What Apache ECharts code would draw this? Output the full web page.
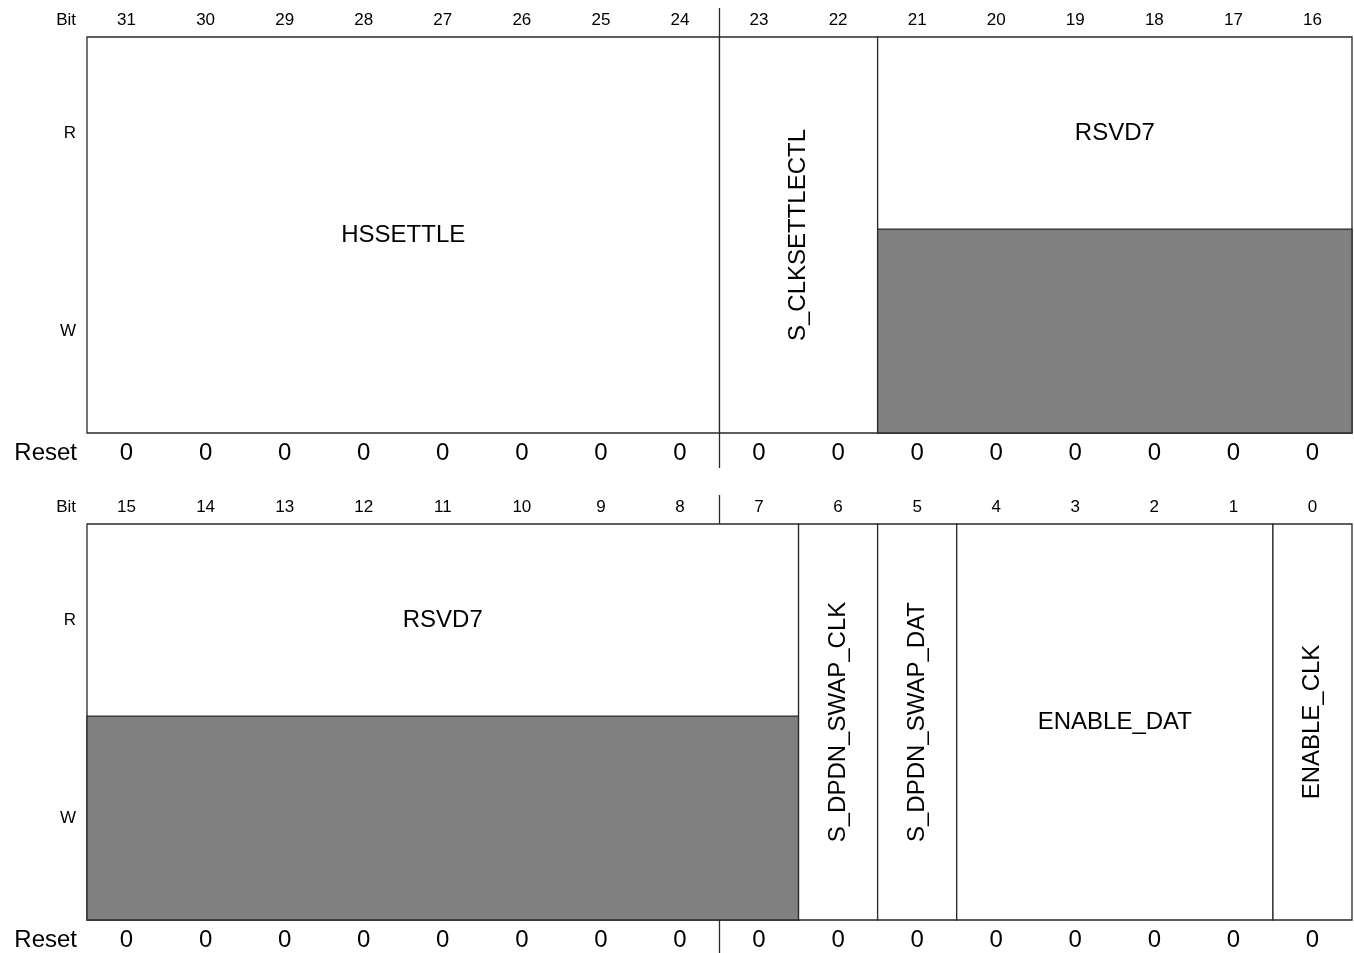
<!DOCTYPE html>
<html><head><meta charset="utf-8">
<script src="https://cdn.jsdelivr.net/npm/echarts@6/dist/echarts.min.js"></script>
<style>html,body{margin:0;padding:0;background:#fff}#c{width:1354px;height:953px}</style>
</head><body><div id="c"></div>
<script>
// ---- data ----
const bitsTop = [31,30,29,28,27,26,25,24,23,22,21,20,19,18,17,16];
const bitsBottom = [15,14,13,12,11,10,9,8,7,6,5,4,3,2,1,0];
const resetTop = [0,0,0,0,0,0,0,0,0,0,0,0,0,0,0,0];
const resetBottom = [0,0,0,0,0,0,0,0,0,0,0,0,0,0,0,0];
const fieldNames = ['HSSETTLE','S_CLKSETTLECTL','RSVD7','RSVD7','S_DPDN_SWAP_CLK','S_DPDN_SWAP_DAT','ENABLE_DAT','ENABLE_CLK'];
const fieldMsb = [31,23,21,15,6,5,4,0];
const fieldLsb = [24,22,16,7,6,5,1,0];
const fieldWritable = [true,true,false,false,true,true,true,true];
const rowLabels = ['R','W'];
const bitLabel = 'Bit';
const resetLabel = 'Reset';
const dividerAfterBit = [24, 8];

// ---- layout / style ----
const FONT = '"Liberation Sans", Arial, Helvetica, sans-serif';
const SPLIT = 0.515;          // R / W boundary (fraction of box height from bottom)
const LINE = '#2a2a2a';
const GREY = '#808080';

const halves = [
  {bits: bitsTop, reset: resetTop, top: 37},
  {bits: bitsBottom, reset: resetBottom, top: 524}
];

function idxOf(h, bit){ return halves[h].bits.indexOf(bit); }

function fieldRender(params, api){
  const a = api.value(0), b = api.value(1), fi = api.value(2);
  const bw = api.size([1, 0])[0];
  const x0 = api.coord([a, 1])[0] - bw/2;
  const x1 = api.coord([b, 1])[0] + bw/2;
  const yT = api.coord([a, 1])[1];
  const yB = api.coord([a, 0])[1];
  const yS = api.coord([a, SPLIT])[1];
  const ch = [{type:'rect', shape:{x:x0, y:yT, width:x1-x0, height:yB-yT},
    style:{fill:'#fff', stroke:LINE, lineWidth:1.3}}];
  let ty = (yT + yB)/2;
  if (!fieldWritable[fi]) {
    ch.push({type:'rect', shape:{x:x0, y:yS, width:x1-x0, height:yB-yS},
      style:{fill:GREY, stroke:LINE, lineWidth:1.3}});
    ty = (yT + yS)/2;
  }
  const width = fieldMsb[fi] - fieldLsb[fi] + 1;
  ch.push({type:'text', x:(x0+x1)/2, y:ty, rotation: width <= 2 ? Math.PI/2 : 0,
    style:{text: fieldNames[fi], fill:'#000', font:'24px ' + FONT, align:'center', verticalAlign:'middle'}});
  return {type:'group', children: ch};
}

function bitRender(params, api){
  const i = api.value(0);
  const x = api.coord([i, 1])[0];
  const yT = api.coord([i, 1])[1];
  const yB = api.coord([i, 0])[1];
  return {type:'group', children:[
    {type:'text', x:x, y:yT-17, style:{text:String(api.value(1)), fill:'#000', font:'17px ' + FONT, align:'center', verticalAlign:'middle'}},
    {type:'text', x:x, y:yB+20, style:{text:String(api.value(2)), fill:'#000', font:'24px ' + FONT, align:'center', verticalAlign:'middle'}}
  ]};
}

function decorRender(params, api){
  const bw = api.size([1, 0])[0];
  const yT = api.coord([0, 1])[1];
  const yB = api.coord([0, 0])[1];
  const yS = api.coord([0, SPLIT])[1];
  const xl = api.coord([0, 1])[0] - bw/2 - 11;
  return {type:'group', children:[
    {type:'text', x:xl, y:yT-17, style:{text:bitLabel, fill:'#000', font:'17px ' + FONT, align:'right', verticalAlign:'middle'}},
    {type:'text', x:xl, y:(yT+yS)/2, style:{text:rowLabels[0], fill:'#000', font:'17px ' + FONT, align:'right', verticalAlign:'middle'}},
    {type:'text', x:xl, y:(yS+yB)/2, style:{text:rowLabels[1], fill:'#000', font:'17px ' + FONT, align:'right', verticalAlign:'middle'}},
    {type:'text', x:xl+1, y:yB+20, style:{text:resetLabel, fill:'#000', font:'24px ' + FONT, align:'right', verticalAlign:'middle'}}
  ]};
}

function dividerRender(params, api){
  const h = api.value(0);
  const bw = api.size([1, 0])[0];
  const yT = api.coord([0, 1])[1];
  const yB = api.coord([0, 0])[1];
  const di = idxOf(h, dividerAfterBit[h]);
  const xd = api.coord([di, 1])[0] + bw/2;
  return {type:'line', shape:{x1:xd, y1:yT-29, x2:xd, y2:yB+35}, style:{stroke:LINE, lineWidth:1.3}};
}

const grids = [], xAxes = [], yAxes = [], series = [];
halves.forEach((hv, h) => {
  grids.push({left:87, right:2, top:hv.top, height:396});
  xAxes.push({type:'category', gridIndex:h, data:hv.bits.map(String), show:false, boundaryGap:true});
  yAxes.push({type:'value', gridIndex:h, min:0, max:1, show:false});
  const fd = [];
  fieldNames.forEach((n, fi) => {
    const a = idxOf(h, fieldMsb[fi]);
    if (a >= 0) fd.push([a, idxOf(h, fieldLsb[fi]), fi]);
  });
  series.push({type:'custom', xAxisIndex:h, yAxisIndex:h, clip:false, silent:true, renderItem:dividerRender, data:[[h]], z:1});
  series.push({type:'custom', xAxisIndex:h, yAxisIndex:h, clip:false, silent:true, renderItem:fieldRender, data:fd, z:2});
  series.push({type:'custom', xAxisIndex:h, yAxisIndex:h, clip:false, silent:true, renderItem:bitRender,
    data: hv.bits.map((b, i) => [i, b, hv.reset[i]]), z:3});
  series.push({type:'custom', xAxisIndex:h, yAxisIndex:h, clip:false, silent:true, renderItem:decorRender, data:[[h]], z:4});
});

const chart = echarts.init(document.getElementById('c'), null, {renderer:'canvas'});
chart.setOption({animation:false, backgroundColor:'#fff', grid:grids, xAxis:xAxes, yAxis:yAxes, series:series});
</script></body></html>
